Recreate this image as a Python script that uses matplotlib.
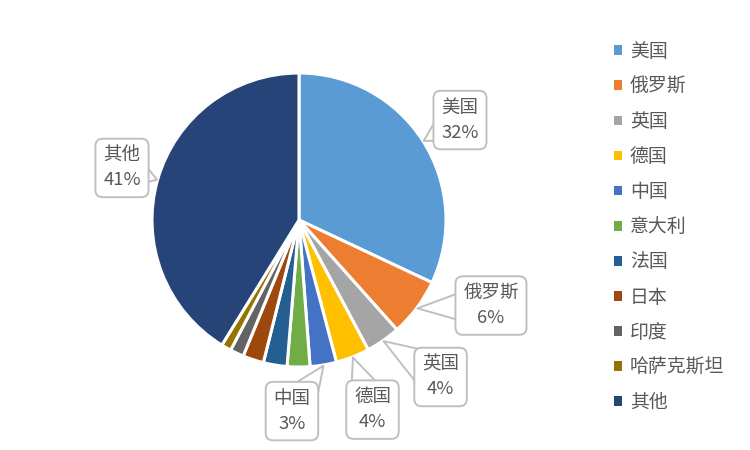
import numpy as np
import matplotlib
matplotlib.use("Agg")
import matplotlib.pyplot as plt
from matplotlib.patches import Rectangle

plt.rcParams['font.family'] = ['Noto Sans CJK SC', 'DejaVu Sans']

categories = ['美国', '俄罗斯', '英国', '德国', '中国', '意大利', '法国', '日本', '印度', '哈萨克斯坦', '其他']
values = [32.0, 6.4, 3.8, 3.7, 2.9, 2.5, 2.6, 2.3, 1.5, 1.1, 41.2]
shown_pct = {'美国': '32%', '俄罗斯': '6%', '英国': '4%', '德国': '4%', '中国': '3%', '其他': '41%'}
colors = ['#5B9BD5', '#ED7D31', '#A5A5A5', '#FFC000', '#4472C4', '#70AD47',
          '#255E91', '#9E480E', '#636363', '#997300', '#264478']

# label box centres (pie-radius units, relative to pie centre)
label_pos = {'美国': (1.095, 0.68), '俄罗斯': (1.306, -0.582), '英国': (0.963, -1.068),
             '德国': (0.50, -1.29), '中国': (-0.048, -1.30), '其他': (-1.204, 0.354)}

W, H = 750, 450
fig = plt.figure(figsize=(W / 100, H / 100), dpi=100)
R = 147.0
cx, cy = 299.0, 220.0
ax = fig.add_axes([0, 0, 1, 1])

wedges, _ = ax.pie(values, colors=colors, startangle=90, counterclock=False,
                   radius=1.0, wedgeprops=dict(edgecolor='white', linewidth=2.2))
ax.set_xlim(-cx / R, (W - cx) / R)
ax.set_ylim(-(H - cy) / R, cy / R)
ax.set_aspect('equal')
ax.axis('off')

tot = sum(values)
cum = 0.0
for cat, v, w in zip(categories, values, wedges):
    mid = 90 - (cum + v / 2) / tot * 360
    cum += v
    if cat not in shown_pct:
        continue
    tip = (1.005 * np.cos(np.radians(mid)), 1.005 * np.sin(np.radians(mid)))
    tx, ty = label_pos[cat]
    ax.annotate(f"{cat}\n{shown_pct[cat]}", xy=tip, xytext=(tx, ty),
                ha='center', va='center', fontsize=13.3, color='#595959',
                linespacing=1.5,
                bbox=dict(boxstyle='round,pad=0.42,rounding_size=0.4', fc='white',
                          ec='#BFBFBF', lw=1.4),
                arrowprops=dict(arrowstyle='wedge,tail_width=2.6,shrink_factor=0.5',
                                fc='white', ec='#BFBFBF', lw=1.4,
                                shrinkA=0, shrinkB=0, patchA=None))

handles = [Rectangle((0, 0), 1, 1, fc=c, ec='none') for c in colors]
leg = fig.legend(handles, categories, loc='upper left',
                 bbox_to_anchor=(614 / W, 1 - 41 / H), frameon=False,
                 fontsize=13.6, handlelength=0.42, handleheight=0.42,
                 handletextpad=0.42, labelspacing=0.745, borderpad=0, borderaxespad=0)
for t in leg.get_texts():
    t.set_color('#595959')

fig.savefig('out.png', dpi=100, facecolor='white')
